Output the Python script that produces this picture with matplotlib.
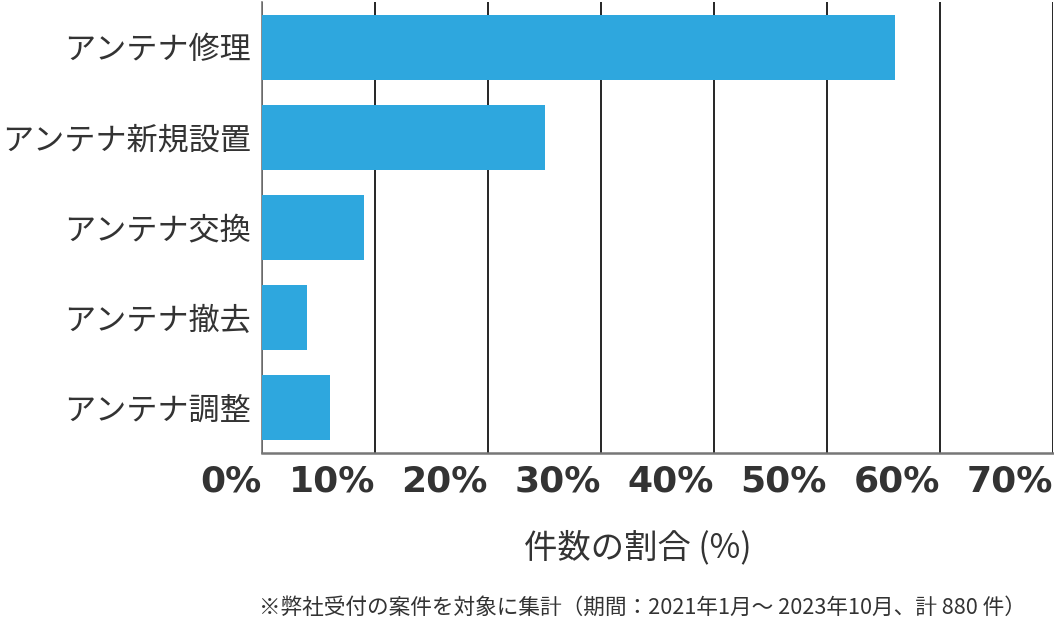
import matplotlib
matplotlib.use("Agg")
import matplotlib.pyplot as plt
from matplotlib.ticker import FixedLocator

categories = ["アンテナ修理", "アンテナ新規設置", "アンテナ交換", "アンテナ撤去", "アンテナ調整"]
values = [56.0, 25.0, 9.0, 4.0, 6.0]
xticks = [0, 10, 20, 30, 40, 50, 60, 70]
xtick_labels = ["0%", "10%", "20%", "30%", "40%", "50%", "60%", "70%"]
xlabel = "件数の割合 (%)"
footnote = "※弊社受付の案件を対象に集計（期間：2021年1月～ 2023年10月、計 880 件）"

plt.rcParams['font.family'] = ['Noto Sans CJK JP', 'DejaVu Sans']

W, H = 1054, 629
fig = plt.figure(figsize=(W / 100, H / 100), dpi=100)
ax = fig.add_axes([262 / W, 1 - 453 / H, (1053 - 262) / W, (453 - 2) / H])

ypos = list(range(len(categories)))
ax.barh(ypos, values, height=0.72, color="#2EA7DE", zorder=3)
ax.set_ylim(len(categories) - 0.5, -0.5)
ax.set_xlim(0, 70)

ax.xaxis.set_major_locator(FixedLocator(xticks))
ax.set_xticklabels(xtick_labels, fontfamily='DejaVu Sans', fontweight='bold',
                   fontsize=26, color="#333333", ha='right')
ax.set_yticks(ypos)
ax.set_yticklabels(categories, fontsize=22.4, color="#333333")
ax.tick_params(axis='x', length=0, pad=8)
ax.tick_params(axis='y', length=0, pad=8)

ax.grid(axis='x', color="black", linewidth=1.2, zorder=0)
for s in ['top', 'right']:
    ax.spines[s].set_visible(False)
ax.spines['bottom'].set_color("#777777")
ax.spines['bottom'].set_linewidth(1.8)
ax.spines['left'].set_color("#777777")
ax.spines['left'].set_linewidth(1.2)

fig.text(638 / W, 1 - 548 / H, xlabel, ha='center', va='center', fontsize=24, color="#333333")
fig.text(642 / W, 1 - 608 / H, footnote, ha='center', va='center', fontsize=15.6, color="#333333")

fig.savefig("out.png", dpi=100)
